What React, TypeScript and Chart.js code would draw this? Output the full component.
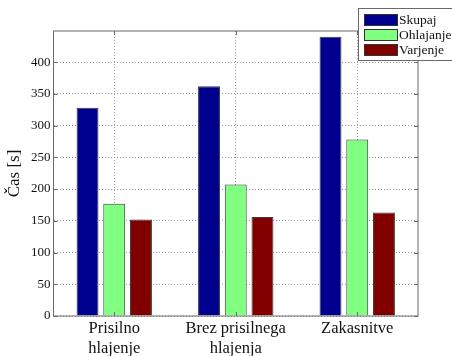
import React, { useEffect, useRef } from "react";
import { Chart, registerables } from "chart.js";

Chart.register(...registerables);

// ---- data ----
const categories: string[][] = [["Prisilno", "hlajenje"], ["Brez prisilnega", "hlajenja"], ["Zakasnitve"]];
const seriesNames = ["Skupaj", "Ohlajanje", "Varjenje"];
const skupaj = [328, 362, 440];
const ohlajanje = [177, 207, 278];
const varjenje = [152, 156, 163];
const yTickValues = [0, 50, 100, 150, 200, 250, 300, 350, 400];
const yMin = 0;
const yMax = 449;
const yTitle = "Čas [s]";

const colors = ["#00008F", "#80FF80", "#800000"];
const FONT = "'Liberation Serif', 'Times New Roman', serif";

const framePlugin = {
  id: "frame",
  afterDatasetsDraw(chart: any) {
    const { ctx, chartArea, scales } = chart;
    const { left, right, top, bottom } = chartArea;
    ctx.save();
    // box
    ctx.strokeStyle = "#6a6a6a";
    ctx.lineWidth = 1;
    ctx.strokeRect(left, top, right - left, bottom - top);
    // inward ticks
    ctx.beginPath();
    const tl = 4;
    yTickValues.forEach((v) => {
      const y = Math.round(scales.y.getPixelForValue(v)) + 0.5;
      ctx.moveTo(left, y);
      ctx.lineTo(left + tl, y);
      ctx.moveTo(right, y);
      ctx.lineTo(right - tl, y);
    });
    categories.forEach((_, i) => {
      const x = Math.round(scales.x.getPixelForValue(i)) + 0.5;
      ctx.moveTo(x, bottom);
      ctx.lineTo(x, bottom - tl);
      ctx.moveTo(x, top);
      ctx.lineTo(x, top + tl);
    });
    ctx.stroke();
    // y title
    ctx.fillStyle = "#111";
    ctx.font = `17px ${FONT}`;
    ctx.textAlign = "center";
    ctx.textBaseline = "middle";
    ctx.translate(15, (top + bottom) / 2);
    ctx.rotate(-Math.PI / 2);
    ctx.fillText(yTitle, 0, 0);
    ctx.restore();
  },
  afterDraw(chart: any) {
    const { ctx } = chart;
    ctx.save();
    const bx = 358.5, by = 8.5, bw = 100, bh = 52;
    ctx.fillStyle = "#ffffff";
    ctx.fillRect(bx, by, bw, bh);
    ctx.strokeStyle = "#6a6a6a";
    ctx.lineWidth = 1;
    ctx.strokeRect(bx, by, bw, bh);
    ctx.font = `13.5px ${FONT}`;
    ctx.textAlign = "left";
    ctx.textBaseline = "middle";
    seriesNames.forEach((name, i) => {
      const cy = 20 + i * 15;
      ctx.fillStyle = colors[i];
      ctx.fillRect(364, cy - 6, 34, 12);
      ctx.strokeStyle = "#333";
      ctx.strokeRect(364.5, cy - 5.5, 33, 11);
      ctx.fillStyle = "#111";
      ctx.fillText(name, 399, cy + 0.5);
    });
    ctx.restore();
  },
};

export default function App() {
  const ref = useRef<HTMLCanvasElement | null>(null);
  useEffect(() => {
    document.body.style.margin = "0";
    const canvas = ref.current!;
    const chart = new Chart(canvas, {
      type: "bar",
      data: {
        labels: categories,
        datasets: [skupaj, ohlajanje, varjenje].map((d, i) => ({
          label: seriesNames[i],
          data: d,
          backgroundColor: colors[i],
          borderColor: "#3a3a3a",
          borderWidth: 1,
          categoryPercentage: 0.66,
          barPercentage: 0.82,
        })),
      },
      options: {
        animation: false,
        responsive: false,
        devicePixelRatio: 1,
        layout: { padding: { top: 31, right: 34, left: 0, bottom: 0 } },
        plugins: { legend: { display: false }, tooltip: { enabled: false }, title: { display: false } },
        scales: {
          x: {
            grid: { offset: false, color: "#9a9a9a", drawTicks: false, lineWidth: 1 },
            border: { display: false, dash: [1, 2] },
            ticks: {
              color: "#111",
              font: { family: FONT, size: 16.5, lineHeight: 1.18 },
              padding: 3,
              maxRotation: 0,
              autoSkip: false,
            },
            afterFit: (s: any) => {
              s.height = 40;
            },
          },
          y: {
            min: yMin,
            max: yMax,
            grid: { color: "#9a9a9a", drawTicks: false, lineWidth: 1 },
            border: { display: false, dash: [1, 2] },
            ticks: {
              color: "#111",
              font: { family: FONT, size: 13 },
              padding: 3,
            },
            afterBuildTicks: (s: any) => {
              s.ticks = yTickValues.map((v) => ({ value: v }));
            },
            afterFit: (s: any) => {
              s.width = 53.5;
            },
          },
        },
      },
      plugins: [framePlugin],
    });
    return () => chart.destroy();
  }, []);
  return (
    <div style={{ width: 452, height: 356, background: "#fff" }}>
      <canvas ref={ref} width={452} height={356} style={{ display: "block" }} />
    </div>
  );
}
